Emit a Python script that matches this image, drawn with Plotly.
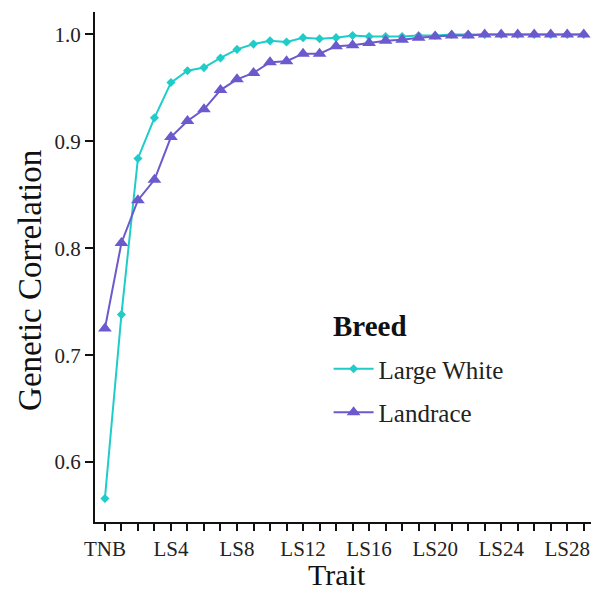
import plotly.graph_objects as go

categories = ["TNB"] + [f"LS{i}" for i in range(1, 30)]
large_white = [0.566, 0.738, 0.884, 0.922, 0.955, 0.966, 0.969, 0.978, 0.986, 0.991,
               0.994, 0.993, 0.997, 0.996, 0.997, 0.999, 0.998, 0.998, 0.998, 0.999,
               0.999, 1.000, 1.000, 1.000, 1.000, 1.000, 1.000, 1.000, 1.000, 1.000]
landrace = [0.725, 0.805, 0.845, 0.864, 0.904, 0.919, 0.930, 0.948, 0.958, 0.964,
            0.974, 0.975, 0.982, 0.982, 0.989, 0.990, 0.992, 0.994, 0.995, 0.997,
            0.998, 0.999, 0.999, 1.000, 1.000, 1.000, 1.000, 1.000, 1.000, 1.000]
labeled_ticks = ["TNB", "LS4", "LS8", "LS12", "LS16", "LS20", "LS24", "LS28"]
y_ticks = [0.6, 0.7, 0.8, 0.9, 1.0]

xs = list(range(len(categories)))
tick_text = [c if c in labeled_ticks else "" for c in categories]

font = "Liberation Serif, Times New Roman, serif"
fig = go.Figure()
fig.add_trace(go.Scatter(x=xs, y=large_white, name="Large White", mode="lines+markers",
                         legendgroup="lw",
                         line=dict(color="#1ecdc9", width=2),
                         marker=dict(symbol="diamond", size=7, color="#1ecdc9")))
fig.add_trace(go.Scatter(x=xs, y=landrace, name="Landrace", mode="lines+markers",
                         legendgroup="lr",
                         line=dict(color="#6a5acd", width=2),
                         marker=dict(symbol="triangle-up", size=12, color="#6a5acd")))

fig.update_layout(
    width=599, height=592,
    margin=dict(l=87, r=15, t=4, b=78),
    paper_bgcolor="white", plot_bgcolor="white",
    font=dict(family=font, color="#222"),
    legend=dict(x=0.47, y=0.345, xanchor="left", yanchor="top",
                font=dict(size=25, family=font, color="#222"),
                bgcolor="rgba(0,0,0,0)", tracegroupgap=8, itemwidth=40),
    xaxis=dict(range=[-0.6, 29.5], tickmode="array", tickvals=xs, ticktext=tick_text,
               showgrid=False, zeroline=False, showline=True, linecolor="#111", linewidth=2,
               ticks="outside", ticklen=7, tickwidth=2, tickcolor="#111",
               tickfont=dict(size=21, family=font, color="#222")),
    yaxis=dict(range=[0.544, 1.021], tickmode="array", tickvals=y_ticks,
               ticktext=[f"{v:.1f}" for v in y_ticks],
               showgrid=False, zeroline=False, showline=True, linecolor="#111", linewidth=2,
               ticks="outside", ticklen=8, tickwidth=2, tickcolor="#111",
               tickfont=dict(size=21, family=font, color="#222")),
    annotations=[
        dict(text="Trait", xref="paper", yref="paper", x=0.487, y=-0.102,
             xanchor="center", yanchor="middle", showarrow=False, borderpad=0,
             font=dict(size=30, family=font, color="#111")),
        dict(text="Genetic Correlation", xref="paper", yref="paper", x=-0.131, y=0.4745,
             xanchor="center", yanchor="middle", showarrow=False, textangle=-90,
             font=dict(size=33, family=font, color="#111")),
        dict(text="<b>Breed</b>", xref="paper", yref="paper", x=0.475, y=0.384,
             xanchor="left", yanchor="middle", showarrow=False,
             font=dict(size=29, family=font, color="#111")),
    ],
)
fig.write_html("out.html")
